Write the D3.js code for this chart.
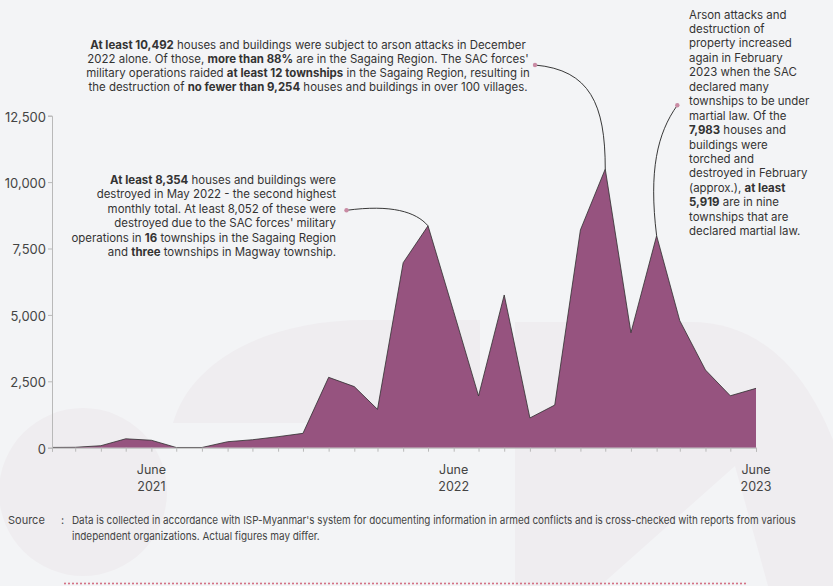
<!DOCTYPE html>
<html>
<head>
<meta charset="utf-8">
<script src="https://cdn.jsdelivr.net/npm/d3@7"></script>
<style>
  html, body { margin: 0; padding: 0; background: #f3f4f6; }
  svg { display: block; font-family: Inter, "Noto Sans", sans-serif; }
</style>
</head>
<body>
<div id="chart"></div>
<script>
// Monthly count of houses and buildings destroyed by arson (Feb 2021 - Jun 2023)
var months = ["2021-02", "2021-03", "2021-04", "2021-05", "2021-06", "2021-07", "2021-08",
    "2021-09", "2021-10", "2021-11", "2021-12", "2022-01", "2022-02", "2022-03", "2022-04",
    "2022-05", "2022-06", "2022-07", "2022-08", "2022-09", "2022-10", "2022-11", "2022-12",
    "2023-01", "2023-02", "2023-03", "2023-04", "2023-05", "2023-06"];
var houses = [10, 15, 75, 335, 280, 8, 8, 225, 300, 415, 540, 2650, 2300, 1445, 6965,
    8354, 5120, 1950, 5750, 1120, 1605, 8200, 10492, 4330, 7983, 4780, 2925, 1955, 2235];
var yTicks = [0, 2500, 5000, 7500, 10000, 12500];
var xLabelMonths = ["2021-06", "2022-06", "2023-06"];

// annotations: each line is a list of [text, bold]
var noteMay = [
    [["At least 8,354", 1], [" houses and buildings were", 0]],
    [["destroyed in May 2022 - the second highest", 0]],
    [["monthly total. At least 8,052 of these were", 0]],
    [["destroyed due to the SAC forces' military", 0]],
    [["operations in ", 0], ["16", 1], [" townships in the Sagaing Region", 0]],
    [["and ", 0], ["three", 1], [" townships in Magway township.", 0]]
];
var noteDec = [
    [["At least 10,492", 1], [" houses and buildings were subject to arson attacks in December", 0]],
    [["2022 alone. Of those, ", 0], ["more than 88%", 1], [" are in the Sagaing Region. The SAC forces'", 0]],
    [["military operations raided ", 0], ["at least 12 townships", 1], [" in the Sagaing Region, resulting in", 0]],
    [["the destruction of ", 0], ["no fewer than 9,254", 1], [" houses and buildings in over 100 villages.", 0]]
];
var noteFeb = [
    [["Arson attacks and", 0]],
    [["destruction of", 0]],
    [["property increased", 0]],
    [["again in February", 0]],
    [["2023 when the SAC", 0]],
    [["declared many", 0]],
    [["townships to be under", 0]],
    [["martial law. Of the", 0]],
    [["7,983", 1], [" houses and", 0]],
    [["buildings were", 0]],
    [["torched and", 0]],
    [["destroyed in February", 0]],
    [["(approx.), ", 0], ["at least", 1]],
    [["5,919", 1], [" are in nine", 0]],
    [["townships that are", 0]],
    [["declared martial law.", 0]]
];
var sourceLines = [
    "Data is collected in accordance with ISP-Myanmar's system for documenting information in armed conflicts and is cross-checked with reports from various",
    "independent organizations. Actual figures may differ."
];

var width = 833, height = 586;
var parse = d3.timeParse("%Y-%m");
var data = months.map(function (m, i) {
    return {date: parse(m), value: houses[i]};
});

var svg = d3.select("#chart").append("svg")
    .attr("width", width)
    .attr("height", height);

svg.append("rect").attr("width", width).attr("height", height).attr("fill", "#f3f4f6");

// faint logo watermark behind the chart
var wm = svg.append("g").attr("fill", "#efedf0");
wm.append("circle").attr("cx", 83).attr("cy", 492).attr("r", 84);
wm.append("path").attr("d", "M173,423 C190,362 265,320 365,320 L480,320 L480,423 Z");
wm.append("path").attr("d", "M515,322 L690,322 C760,322 805,370 833,440 L833,586 L515,586 Z");
svg.append("path").attr("fill", "#f3f4f6").attr("d", "M600,586 L735,466 L768,586 Z");

var x = d3.scaleTime()
    .domain(d3.extent(data, function (d) { return d.date; }))
    .range([52, 756]);
var y = d3.scaleLinear()
    .domain([0, 12500])
    .range([447.7, 115.7]);

var area = d3.area()
    .x(function (d) { return x(d.date); })
    .y0(y(0))
    .y1(function (d) { return y(d.value); });
var line = d3.line()
    .x(function (d) { return x(d.date); })
    .y(function (d) { return y(d.value); });

svg.append("path")
    .datum(data)
    .attr("d", area)
    .attr("fill", "#96537f");
svg.append("path")
    .datum(data)
    .attr("d", line)
    .attr("fill", "none")
    .attr("stroke", "#2f2f2f")
    .attr("stroke-width", 0.8);

// y axis
var yAxis = svg.append("g")
    .attr("transform", "translate(52,0)")
    .call(d3.axisLeft(y).tickValues(yTicks).tickSize(4).tickPadding(2).tickFormat(d3.format(",")));
// x axis
var xLabels = xLabelMonths.map(parse);
var xAxis = svg.append("g")
    .attr("transform", "translate(0," + y(0) + ")")
    .call(d3.axisBottom(x).tickValues(data.map(function (d) { return d.date; })).tickSize(4).tickFormat(""));

[yAxis, xAxis].forEach(function (g) {
    g.select(".domain").attr("stroke", "#b9b9b9");
    g.selectAll(".tick line").attr("stroke", "#b9b9b9");
    g.selectAll("text").attr("fill", "#444").style("font-size", "13px").style("font-family", "Inter, sans-serif");
});
yAxis.selectAll("text").attr("dy", "0.42em");

var xl = svg.append("g").attr("font-size", "12.5px").attr("fill", "#444").attr("text-anchor", "middle");
xLabels.forEach(function (d) {
    xl.append("text").attr("x", x(d)).attr("y", 474).text(d3.timeFormat("%B")(d));
    xl.append("text").attr("x", x(d)).attr("y", 491).text(d3.timeFormat("%Y")(d));
});

// annotation text helper
function writeNote(lines, xPos, y0, lh, anchor, size) {
    var g = svg.append("g")
        .attr("font-size", size + "px")
        .attr("fill", "#333")
        .attr("text-anchor", anchor);
    lines.forEach(function (parts, i) {
        var t = g.append("text").attr("x", xPos).attr("y", y0 + i * lh);
        parts.forEach(function (p) {
            t.append("tspan")
                .attr("font-weight", p[1] ? 700 : 400)
                .text(p[0]);
        });
    });
}

writeNote(noteMay, 336, 183.5, 14.5, "end", 11.45);
writeNote(noteDec, 308, 48.5, 14, "middle", 11.45);
writeNote(noteFeb, 689, 18.5, 14.45, "start", 11.45);

// connector curves from the notes to the peaks
var connectors = [
    {from: [346.5, 210.3], month: "2022-05", c: function (a, b) { return [[a[0] + 45, a[1] - 6], [b[0] - 12, b[1] - 14]]; }},
    {from: [535, 65], month: "2022-12", c: function (a, b) { return [[a[0] + 55, a[1] + 5], [b[0], b[1] - 65]]; }},
    {from: [677.3, 105.3], month: "2023-02", c: function (a, b) { return [[a[0] - 20, a[1] + 28], [b[0] - 8, b[1] - 65]]; }}
];
connectors.forEach(function (cn) {
    var i = months.indexOf(cn.month);
    var b = [x(data[i].date), y(data[i].value)];
    var c = cn.c(cn.from, b);
    var p = d3.path();
    p.moveTo(cn.from[0], cn.from[1]);
    p.bezierCurveTo(c[0][0], c[0][1], c[1][0], c[1][1], b[0], b[1]);
    svg.append("path").attr("d", p.toString()).attr("fill", "none")
        .attr("stroke", "#222").attr("stroke-width", 0.9);
    svg.append("circle").attr("cx", cn.from[0]).attr("cy", cn.from[1]).attr("r", 2.2)
        .attr("fill", "#c98ba4");
});

// source note, squeezed horizontally to mimic the condensed face
var src = svg.append("g").attr("font-size", "11px").attr("fill", "#444");
src.append("text").attr("x", 8).attr("y", 524).text("Source");
src.append("text").attr("x", 61).attr("y", 524).text(":");
var srcWidths = [725, 248];
sourceLines.forEach(function (s, i) {
    var g = src.append("g").attr("transform", "translate(72," + (524 + i * 16) + ")");
    var t = g.append("text").text(s);
    var w = t.node().getComputedTextLength();
    g.attr("transform", "translate(72," + (524 + i * 16) + ") scale(" + (srcWidths[i] / w) + ",1)");
});

// dotted rule at the bottom
svg.append("line")
    .attr("x1", 65).attr("x2", 747).attr("y1", 583.5).attr("y2", 583.5)
    .attr("stroke", "#d2677c").attr("stroke-width", 2)
    .attr("stroke-linecap", "round").attr("stroke-dasharray", "0 4");
</script>
</body>
</html>
